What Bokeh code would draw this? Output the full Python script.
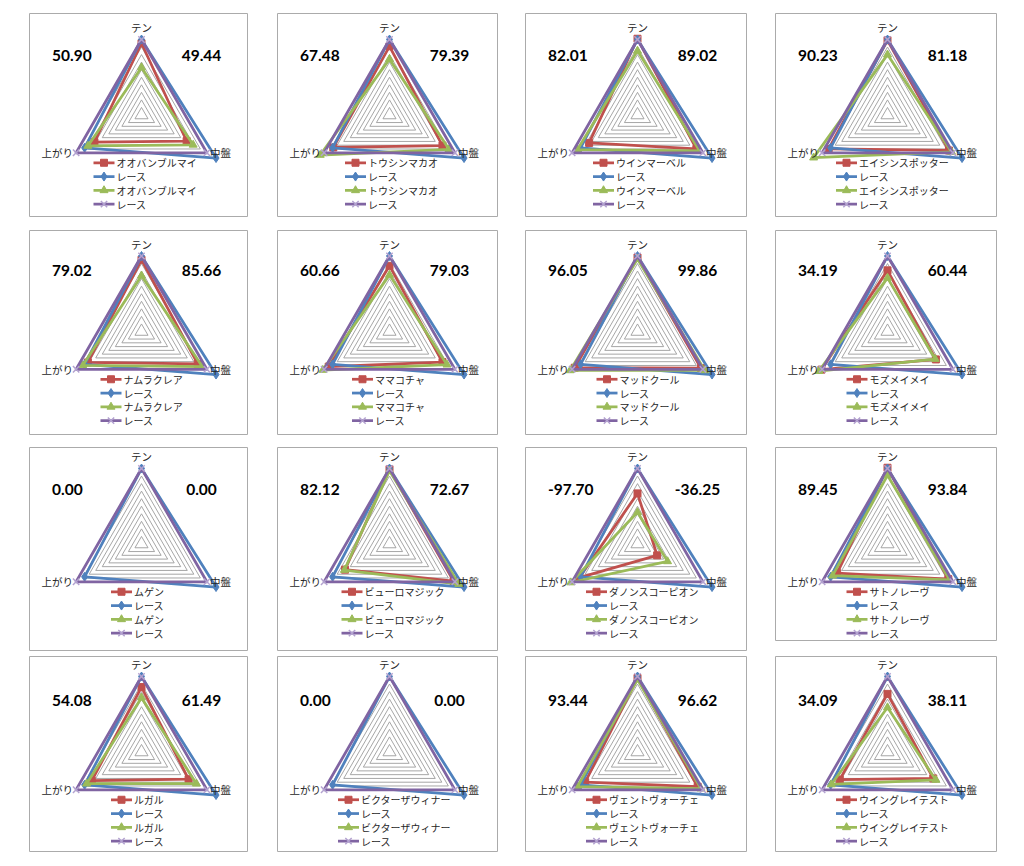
import math
from bokeh.plotting import figure
from bokeh.models import Range1d
from bokeh.core.properties import value
from bokeh.embed import file_html
from bokeh.resources import INLINE

# ---------------- data ----------------
AXES = ["テン", "中盤", "上がり"]
HORSES = ["オオバンブルマイ", "トウシンマカオ", "ウインマーベル", "エイシンスポッター",
          "ナムラクレア", "ママコチャ", "マッドクール", "モズメイメイ",
          "ムゲン", "ビューロマジック", "ダノンスコーピオン", "サトノレーヴ",
          "ルガル", "ビクターザウィナー", "ヴェントヴォーチェ", "ウイングレイテスト"]
RACE_LABEL = "レース"
LEFT_SCORE = [50.90, 67.48, 82.01, 90.23, 79.02, 60.66, 96.05, 34.19,
              0.00, 82.12, -97.70, 89.45, 54.08, 0.00, 93.44, 34.09]
RIGHT_SCORE = [49.44, 79.39, 89.02, 81.18, 85.66, 79.03, 99.86, 60.44,
               0.00, 72.67, -36.25, 93.84, 61.49, 0.00, 96.62, 38.11]
# series values per horse (テン, 中盤, 上がり)
HORSE_RED = [[95, 69, 72], [91, 81, 86], [101, 90, 74], [99, 94, 90],
             [95, 86, 82], [87, 81, 93], [98, 97, 96], [81, 74, 101],
             None, [99, 98, 68], [67, 30, 89], [101, 93, 77],
             [86, 72, 76], None, [98, 92, 80], [77, 70, 73]]
HORSE_GREEN = [[63, 79, 82], [74, 91, 106], [85, 95, 92], [80, 98, 113],
               [74, 93, 90], [75, 88, 102], [96, 103, 103], [71, 73, 105],
               None, [97, 106, 69], [42, 46, 102], [91, 95, 84],
               [72, 84, 84], None, [96, 97, 92], [59, 74, 86]]
RACE_BLUE = [100, 114, 87]
RACE_PURPLE = [100, 100, 100]
GRID_LEVELS = [10, 20, 30, 40, 50, 60, 70, 80, 90, 100]
SCALE_MAX = 100

# ---------------- layout / style ----------------
COL_X = [29, 277, 525, 775]
COL_W = [218, 220, 221, 221]
ROW_Y = [13, 230, 447, 656]
ROW_H = [203, 204, 203, 195]
CX_OFF = 112
CY_OFF = [101.5, 101, 96.5, 95.5]
NUM_Y = [42, 40, 42, 44]
RAD = 75.5
ANG = [90, -30, 210]

RED = "#C0504D"
BLUE = "#4F81BD"
GREEN = "#9BBB59"
PURPLE = "#8064A2"
XCOL = "#B3A2D0"
GRIDC = "#9C9C9C"
BORDER = "#ABABAB"
TXT = "#262626"
JP = "Noto Sans CJK JP"

p = figure(width=1024, height=866, x_range=Range1d(0, 1024), y_range=Range1d(866, 0),
           output_backend="svg", toolbar_location=None, min_border=0,
           x_axis_type=None, y_axis_type=None)
p.grid.visible = False
p.outline_line_color = None
p.background_fill_color = "white"


def pt(cx, cy, v, k):
    r = v / SCALE_MAX * RAD
    a = math.radians(ANG[k])
    return cx + r * math.cos(a), cy - r * math.sin(a)


def closed(cx, cy, vals):
    xs, ys = [], []
    for k in range(3):
        x, y = pt(cx, cy, vals[k], k)
        xs.append(x)
        ys.append(y)
    return xs + [xs[0]], ys + [ys[0]]


border = dict(l=[], r=[], t=[], b=[])
grid_xs, grid_ys = [], []
series = {c: dict(xs=[], ys=[], mx=[], my=[]) for c in ["red", "blue", "green", "purple"]}
legend = {c: dict(xs=[], ys=[], mx=[], my=[]) for c in ["red", "blue", "green", "purple"]}
ax_lab = dict(top=dict(x=[], y=[], t=[]), right=dict(x=[], y=[], t=[]), left=dict(x=[], y=[], t=[]))
num_l = dict(x=[], y=[], t=[])
num_r = dict(x=[], y=[], t=[])
leg_txt = dict(x=[], y=[], t=[])

for i, name in enumerate(HORSES):
    r, c = divmod(i, 4)
    x0, y0 = COL_X[c], ROW_Y[r]
    h = ROW_H[r] - (10 if i == 11 else 0)
    border["l"].append(x0); border["r"].append(x0 + COL_W[c])
    border["t"].append(y0); border["b"].append(y0 + h)
    cx, cy = x0 + CX_OFF, y0 + CY_OFF[r]

    for lvl in GRID_LEVELS:
        xs, ys = closed(cx, cy, [lvl] * 3)
        grid_xs.append(xs); grid_ys.append(ys)

    for key, vals in [("red", HORSE_RED[i]), ("blue", RACE_BLUE),
                      ("green", HORSE_GREEN[i]), ("purple", RACE_PURPLE)]:
        if vals is None:
            continue
        xs, ys = closed(cx, cy, vals)
        series[key]["xs"].append(xs); series[key]["ys"].append(ys)
        series[key]["mx"] += xs[:3]; series[key]["my"] += ys[:3]

    tx, ty = pt(cx, cy, SCALE_MAX, 0)
    rx, ry = pt(cx, cy, SCALE_MAX, 1)
    lx, ly = pt(cx, cy, SCALE_MAX, 2)
    ax_lab["top"]["x"].append(tx); ax_lab["top"]["y"].append(ty - 12); ax_lab["top"]["t"].append(AXES[0])
    ax_lab["right"]["x"].append(rx + 3); ax_lab["right"]["y"].append(ry); ax_lab["right"]["t"].append(AXES[1])
    ax_lab["left"]["x"].append(lx - 3); ax_lab["left"]["y"].append(ly); ax_lab["left"]["t"].append(AXES[2])

    num_l["x"].append(x0 + 22.5); num_l["y"].append(y0 + NUM_Y[r]); num_l["t"].append("%.2f" % LEFT_SCORE[i])
    num_r["x"].append(x0 + 172); num_r["y"].append(y0 + NUM_Y[r]); num_r["t"].append("%.2f" % RIGHT_SCORE[i])

    lx0 = cx - 20 - 3.5 * len(name)
    for j, (key, lab) in enumerate([("red", name), ("blue", RACE_LABEL),
                                    ("green", name), ("purple", RACE_LABEL)]):
        yy = ly + 10 + 13.8 * j
        legend[key]["xs"].append([lx0, lx0 + 21]); legend[key]["ys"].append([yy, yy])
        legend[key]["mx"].append(lx0 + 10.5); legend[key]["my"].append(yy)
        leg_txt["x"].append(lx0 + 23); leg_txt["y"].append(yy); leg_txt["t"].append(lab)

# panel frames
p.quad(left=border["l"], right=border["r"], top=border["t"], bottom=border["b"],
       fill_color="white", line_color=BORDER, line_width=1)
# grid
p.multi_line(grid_xs, grid_ys, line_color=GRIDC, line_width=0.9)

styles = {
    "red": dict(color=RED, marker="square", size=7),
    "blue": dict(color=BLUE, marker="diamond", size=9),
    "green": dict(color=GREEN, marker="triangle", size=8),
    "purple": dict(color=PURPLE, marker="x", size=9),
}
for key in ["red", "blue", "green", "purple"]:
    st = styles[key]
    for d, lw in [(series[key], 2.75), (legend[key], 2.75)]:
        if not d["xs"]:
            continue
        p.multi_line(d["xs"], d["ys"], line_color=st["color"], line_width=lw, line_join="round")
        if key == "purple":
            p.scatter(d["mx"], d["my"], marker="x", size=st["size"], line_color=XCOL, line_width=1.5)
        else:
            p.scatter(d["mx"], d["my"], marker=st["marker"], size=st["size"],
                      fill_color=st["color"], line_color=st["color"])

p.text(ax_lab["top"]["x"], ax_lab["top"]["y"], text=ax_lab["top"]["t"], text_font=value(JP),
       text_font_size="10.5px", text_color=TXT, text_align="center", text_baseline="middle")
p.text(ax_lab["right"]["x"], ax_lab["right"]["y"], text=ax_lab["right"]["t"], text_font=value(JP),
       text_font_size="10.5px", text_color=TXT, text_align="left", text_baseline="middle")
p.text(ax_lab["left"]["x"], ax_lab["left"]["y"], text=ax_lab["left"]["t"], text_font=value(JP),
       text_font_size="10.5px", text_color=TXT, text_align="right", text_baseline="middle")
p.text(num_l["x"], num_l["y"], text=num_l["t"], text_font=value("Lato"), text_font_style="bold",
       text_font_size="15.5px", text_color="black", text_align="left", text_baseline="middle")
p.text(num_r["x"], num_r["y"], text=num_r["t"], text_font=value("Lato"), text_font_style="bold",
       text_font_size="15.5px", text_color="black", text_align="center", text_baseline="middle")
p.text(leg_txt["x"], leg_txt["y"], text=leg_txt["t"], text_font=value(JP),
       text_font_size="10px", text_color=TXT, text_align="left", text_baseline="middle")

open("out.html", "w").write(file_html(p, INLINE))
